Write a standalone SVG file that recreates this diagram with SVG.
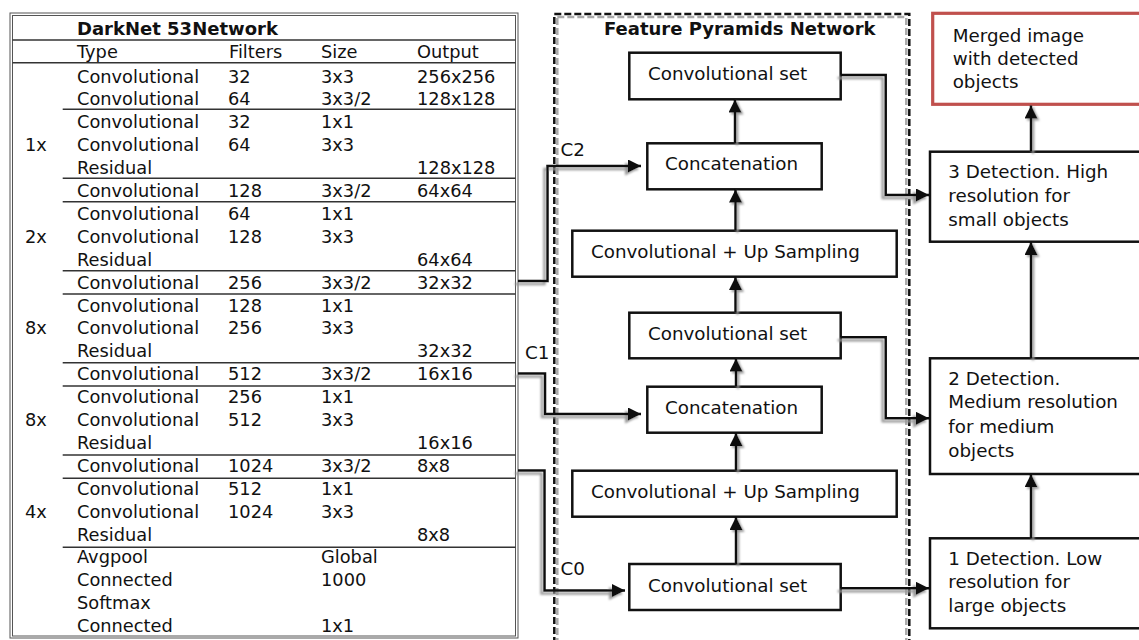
<svg xmlns="http://www.w3.org/2000/svg" width="1139" height="640" viewBox="0 0 1139 640">
  <style>
    text { font-family: "DejaVu Sans", Verdana, sans-serif; font-size: 17.8px; fill: #111; }
    .bold { font-weight: bold; font-size: 18px; }
    .lbl { font-size: 18.3px; }
    .grid { stroke: #333; stroke-width: 1.4; fill: none; }
    .frame { stroke: #555; stroke-width: 1; fill: none; }
    .box { fill: #fff; stroke: #111; stroke-width: 2.5; }
    .red { fill: #fff; stroke: #c0504d; stroke-width: 3.2; }
    .wire { fill: none; stroke: #111; stroke-width: 2.5; }
    .dash { fill: none; stroke: #111; stroke-width: 2.5; stroke-dasharray: 7 3; }
    .dash-sh { fill: none; stroke: #aaa; stroke-width: 2.5; stroke-dasharray: 7 3; }
  </style>
  <defs>
    <marker id="arrow" markerUnits="userSpaceOnUse" markerWidth="14" markerHeight="14" refX="13" refY="6.5" orient="auto">
      <path d="M0,0 L13,6.5 L0,13 z" fill="#111"/>
    </marker>
    <filter id="shadowL" x="-20%" y="-20%" width="140%" height="140%">
      <feOffset in="SourceAlpha" dx="-3" dy="3" result="o"/>
      <feGaussianBlur in="o" stdDeviation="0.8" result="b"/>
      <feFlood flood-color="#999"/>
      <feComposite in2="b" operator="in" result="s"/>
      <feMerge><feMergeNode in="s"/><feMergeNode in="SourceGraphic"/></feMerge>
    </filter>
    <filter id="shadowR" x="-50%" y="-20%" width="200%" height="140%">
      <feOffset in="SourceAlpha" dx="2" dy="2" result="o"/>
      <feGaussianBlur in="o" stdDeviation="0.8" result="b"/>
      <feFlood flood-color="#999"/>
      <feComposite in2="b" operator="in" result="s"/>
      <feMerge><feMergeNode in="s"/><feMergeNode in="SourceGraphic"/></feMerge>
    </filter>
  </defs>

  <rect width="1139" height="640" fill="#fff"/>

  <!-- DarkNet-53 layer table -->
  <g id="darknet-table">
    <rect class="frame" x="10" y="13" width="508" height="625"/>
    <rect class="frame" x="12.5" y="15.5" width="503" height="620.5"/>
    <line class="grid" x1="12.5" y1="40" x2="515.5" y2="40"/>
    <line class="grid" x1="12.5" y1="62.7" x2="515.5" y2="62.7"/>
    <g class="grid">
      <line x1="62.7" y1="109.3" x2="515.5" y2="109.3"/>
      <line x1="62.7" y1="178.3" x2="515.5" y2="178.3"/>
      <line x1="62.7" y1="201.7" x2="515.5" y2="201.7"/>
      <line x1="62.7" y1="270.7" x2="515.5" y2="270.7"/>
      <line x1="62.7" y1="294" x2="515.5" y2="294"/>
      <line x1="62.7" y1="362.7" x2="515.5" y2="362.7"/>
      <line x1="62.7" y1="386" x2="515.5" y2="386"/>
      <line x1="62.7" y1="455" x2="515.5" y2="455"/>
      <line x1="62.7" y1="478.3" x2="515.5" y2="478.3"/>
      <line x1="62.7" y1="547.3" x2="515.5" y2="547.3"/>
    </g>
    <text class="bold" x="77" y="35">DarkNet 53Network</text>
    <text x="77" y="58">Type</text><text x="229" y="58">Filters</text><text x="321" y="58">Size</text><text x="417" y="58">Output</text>

    <text x="77" y="82.5">Convolutional</text><text x="228" y="82.5">32</text><text x="321" y="82.5">3x3</text><text x="417" y="82.5">256x256</text>
    <text x="77" y="105.4">Convolutional</text><text x="228" y="105.4">64</text><text x="321" y="105.4">3x3/2</text><text x="417" y="105.4">128x128</text>
    <text x="77" y="128.3">Convolutional</text><text x="228" y="128.3">32</text><text x="321" y="128.3">1x1</text>
    <text x="25" y="151.2">1x</text><text x="77" y="151.2">Convolutional</text><text x="228" y="151.2">64</text><text x="321" y="151.2">3x3</text>
    <text x="77" y="174.1">Residual</text><text x="417" y="174.1">128x128</text>
    <text x="77" y="197">Convolutional</text><text x="228" y="197">128</text><text x="321" y="197">3x3/2</text><text x="417" y="197">64x64</text>
    <text x="77" y="219.9">Convolutional</text><text x="228" y="219.9">64</text><text x="321" y="219.9">1x1</text>
    <text x="25" y="242.8">2x</text><text x="77" y="242.8">Convolutional</text><text x="228" y="242.8">128</text><text x="321" y="242.8">3x3</text>
    <text x="77" y="265.7">Residual</text><text x="417" y="265.7">64x64</text>
    <text x="77" y="288.6">Convolutional</text><text x="228" y="288.6">256</text><text x="321" y="288.6">3x3/2</text><text x="417" y="288.6">32x32</text>
    <text x="77" y="311.5">Convolutional</text><text x="228" y="311.5">128</text><text x="321" y="311.5">1x1</text>
    <text x="25" y="334.4">8x</text><text x="77" y="334.4">Convolutional</text><text x="228" y="334.4">256</text><text x="321" y="334.4">3x3</text>
    <text x="77" y="357.3">Residual</text><text x="417" y="357.3">32x32</text>
    <text x="77" y="380.2">Convolutional</text><text x="228" y="380.2">512</text><text x="321" y="380.2">3x3/2</text><text x="417" y="380.2">16x16</text>
    <text x="77" y="403.1">Convolutional</text><text x="228" y="403.1">256</text><text x="321" y="403.1">1x1</text>
    <text x="25" y="426">8x</text><text x="77" y="426">Convolutional</text><text x="228" y="426">512</text><text x="321" y="426">3x3</text>
    <text x="77" y="448.9">Residual</text><text x="417" y="448.9">16x16</text>
    <text x="77" y="471.8">Convolutional</text><text x="228" y="471.8">1024</text><text x="321" y="471.8">3x3/2</text><text x="417" y="471.8">8x8</text>
    <text x="77" y="494.7">Convolutional</text><text x="228" y="494.7">512</text><text x="321" y="494.7">1x1</text>
    <text x="25" y="517.6">4x</text><text x="77" y="517.6">Convolutional</text><text x="228" y="517.6">1024</text><text x="321" y="517.6">3x3</text>
    <text x="77" y="540.5">Residual</text><text x="417" y="540.5">8x8</text>
    <text x="77" y="563.4">Avgpool</text><text x="321" y="563.4">Global</text>
    <text x="77" y="586.3">Connected</text><text x="321" y="586.3">1000</text>
    <text x="77" y="609.2">Softmax</text>
    <text x="77" y="632.1">Connected</text><text x="321" y="632.1">1x1</text>
  </g>

  <!-- Feature Pyramids Network frame -->
  <g id="fpn-frame">
    <rect class="dash-sh" x="557.3" y="17" width="349" height="640"/>
    <rect class="dash" x="554.3" y="14" width="355" height="640"/>
    <text class="bold" x="604" y="35">Feature Pyramids Network</text>
  </g>

  <!-- FPN blocks -->
  <g id="fpn-convset-1"><rect class="box" x="629.3" y="52.7" width="211.4" height="46.6"/><text class="lbl" x="648" y="80.2">Convolutional set</text></g>
  <g id="fpn-concat-1"><rect class="box" x="647.3" y="143.3" width="174.4" height="46"/><text class="lbl" x="665" y="170.3">Concatenation</text></g>
  <g id="fpn-convup-1"><rect class="box" x="572.3" y="230.7" width="324.4" height="46"/><text class="lbl" x="591" y="258.3">Convolutional + Up Sampling</text></g>
  <g id="fpn-convset-2"><rect class="box" x="629.3" y="312.7" width="211.4" height="45.6"/><text class="lbl" x="648" y="340">Convolutional set</text></g>
  <g id="fpn-concat-2"><rect class="box" x="647.3" y="386.7" width="174.4" height="46"/><text class="lbl" x="665" y="414">Concatenation</text></g>
  <g id="fpn-convup-2"><rect class="box" x="572.3" y="470.7" width="324.4" height="46"/><text class="lbl" x="591" y="498.3">Convolutional + Up Sampling</text></g>
  <g id="fpn-convset-3"><rect class="box" x="629.3" y="564" width="211.4" height="46"/><text class="lbl" x="648" y="591.7">Convolutional set</text></g>

  <!-- Detection outputs -->
  <g id="merged-output"><rect class="red" x="932.7" y="13.3" width="215" height="91"/>
    <text class="lbl" x="952.7" y="41.7">Merged image</text><text class="lbl" x="952.7" y="65">with detected</text><text class="lbl" x="952.7" y="88.3">objects</text></g>
  <g id="detection-3"><rect class="box" x="930" y="151.7" width="215" height="90"/>
    <text class="lbl" x="948.3" y="178.3">3 Detection. High</text><text class="lbl" x="948.3" y="201.7">resolution for</text><text class="lbl" x="948.3" y="226">small objects</text></g>
  <g id="detection-2"><rect class="box" x="930" y="358.3" width="215" height="115.7"/>
    <text class="lbl" x="948.3" y="385">2 Detection.</text><text class="lbl" x="948.3" y="408.3">Medium resolution</text><text class="lbl" x="948.3" y="433">for medium</text><text class="lbl" x="948.3" y="456.5">objects</text></g>
  <g id="detection-1"><rect class="box" x="930" y="538.3" width="215" height="90"/>
    <text class="lbl" x="948.3" y="565">1 Detection. Low</text><text class="lbl" x="948.3" y="588.3">resolution for</text><text class="lbl" x="948.3" y="611.7">large objects</text></g>

  <!-- Connectors -->
  <g id="connectors">
    <g filter="url(#shadowL)">
      <path class="wire" d="M518,281 H547.5 V166 H641" marker-end="url(#arrow)"/>
      <path class="wire" d="M518,373.5 H545 V414 H641" marker-end="url(#arrow)"/>
      <path class="wire" d="M518,470.5 H544.5 V590.5 H625" marker-end="url(#arrow)"/>
      <path class="wire" d="M840.7,75 H885.7 V195 H929" marker-end="url(#arrow)"/>
      <path class="wire" d="M840.7,337.3 H885.7 V418.3 H929" marker-end="url(#arrow)"/>
      <path class="wire" d="M840.7,588.3 H929" marker-end="url(#arrow)"/>
    </g>
    <g filter="url(#shadowR)">
      <path class="wire" d="M735,143.3 V99.5" marker-end="url(#arrow)"/>
      <path class="wire" d="M735.5,230.7 V189.5" marker-end="url(#arrow)"/>
      <path class="wire" d="M735.5,312.7 V277" marker-end="url(#arrow)"/>
      <path class="wire" d="M736,386.7 V358.5" marker-end="url(#arrow)"/>
      <path class="wire" d="M736,470.7 V433" marker-end="url(#arrow)"/>
      <path class="wire" d="M736,564 V517" marker-end="url(#arrow)"/>
      <path class="wire" d="M1031,151.7 V105.5" marker-end="url(#arrow)"/>
      <path class="wire" d="M1031,358.3 V242" marker-end="url(#arrow)"/>
      <path class="wire" d="M1031,538.3 V474.3" marker-end="url(#arrow)"/>
    </g>
    <text class="lbl" x="560.5" y="156">C2</text>
    <text class="lbl" x="525" y="359">C1</text>
    <text class="lbl" x="560.5" y="575">C0</text>
  </g>
</svg>
